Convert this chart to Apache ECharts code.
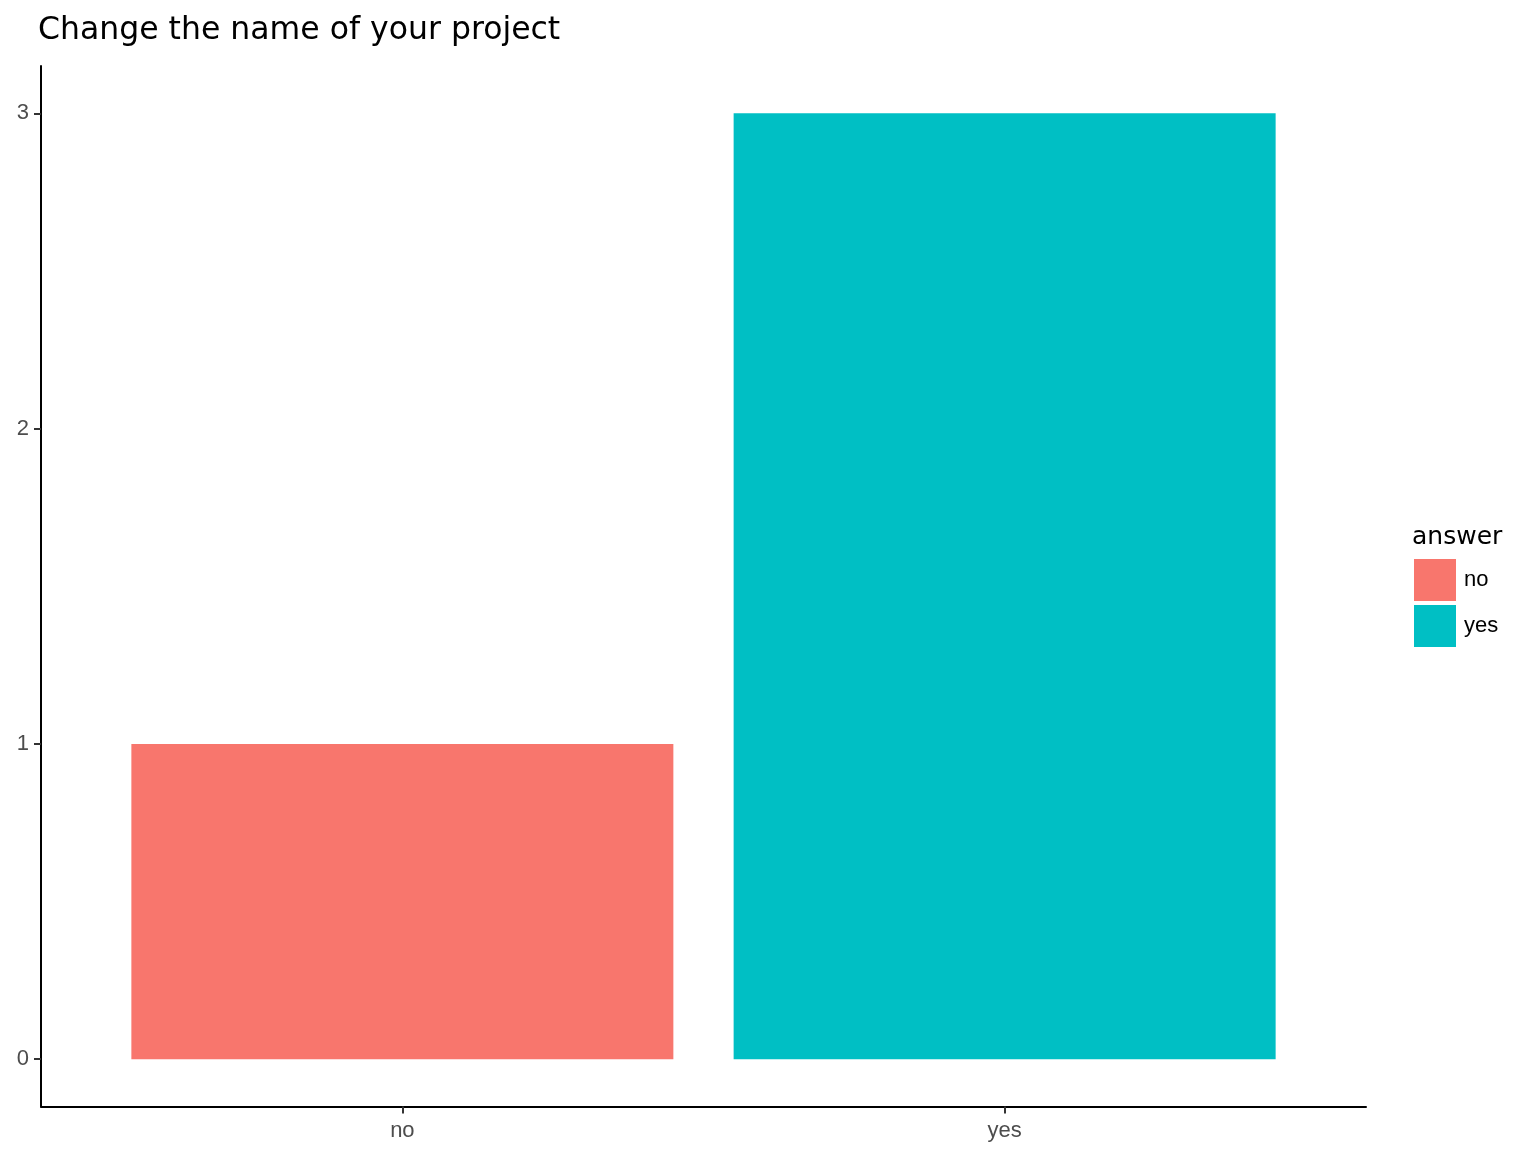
<!DOCTYPE html>
<html>
<head>
<meta charset="utf-8">
<script src="https://cdn.jsdelivr.net/npm/echarts@6/dist/echarts.min.js"></script>
<style>
  html, body { margin: 0; padding: 0; background: #fff; }
  #chart { width: 1536px; height: 1152px; }
</style>
</head>
<body>
<div id="chart"></div>
<script>
// answers and counts
const categories = ['no', 'yes'];
const counts = [1, 3];
const colors = ['#F8766D', '#00BFC4'];
const yTicks = [0, 1, 2, 3];

const FONT = '"Liberation Sans", Arial, sans-serif';
const WIDE = '"DejaVu Sans", sans-serif';
const chart = echarts.init(document.getElementById('chart'));

// discrete x positions 1..n, ggplot style padding of 0.6 on each side
const xPos = categories.map((c, i) => i + 1);

const series = categories.map((name, i) => ({
  name: name,
  type: 'bar',
  data: [[xPos[i], counts[i]]],
  barWidth: 542,
  barGap: '-100%',
  itemStyle: { color: colors[i] },
  emphasis: { disabled: true }
}));

chart.setOption({
  animation: false,
  title: {
    text: 'Change the name of your project',
    left: 38,
    top: 15,
    padding: 0,
    textStyle: { fontFamily: WIDE, fontSize: 31.5, fontWeight: 'normal', color: '#000' }
  },
  legend: {
    orient: 'vertical',
    left: 1414,
    top: 559,
    padding: 0,
    itemWidth: 42,
    itemHeight: 42,
    itemGap: 4,
    icon: 'rect',
    data: categories,
    textStyle: { fontFamily: FONT, fontSize: 22, color: '#000', padding: [0, 0, 0, 3] },
    selectedMode: false
  },
  graphic: [{
    type: 'text',
    x: 1412,
    y: 537,
    style: { text: 'answer', fontFamily: WIDE, fontSize: 25, fill: '#000', verticalAlign: 'middle' }
  }],
  grid: { left: 41, right: 170, top: 66, bottom: 45.5, containLabel: false },
  xAxis: {
    type: 'value',
    min: 0.4,
    max: 2.6,
    splitLine: { show: false },
    axisLine: { show: true, onZero: false, lineStyle: { color: '#000', width: 2 } },
    axisTick: { show: true, customValues: xPos, length: 7, lineStyle: { color: '#333', width: 2 } },
    axisLabel: {
      customValues: xPos,
      formatter: v => categories[Math.round(v) - 1] || '',
      fontFamily: FONT, fontSize: 22, color: '#4d4d4d', margin: 13
    }
  },
  yAxis: {
    type: 'value',
    min: -0.15,
    max: 3.15,
    splitLine: { show: false },
    axisLine: { show: true, onZero: false, lineStyle: { color: '#000', width: 2 } },
    axisTick: { show: true, customValues: yTicks, length: 7, lineStyle: { color: '#333', width: 2 } },
    axisLabel: {
      customValues: yTicks,
      fontFamily: FONT, fontSize: 22, color: '#4d4d4d', margin: 12
    }
  },
  series: series
});
</script>
</body>
</html>
